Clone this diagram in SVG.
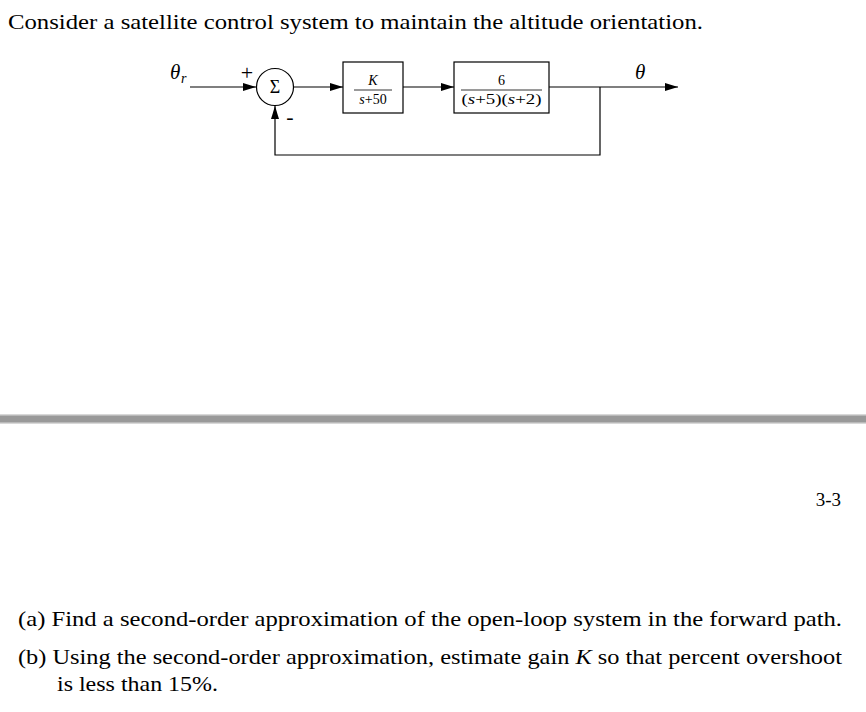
<svg xmlns="http://www.w3.org/2000/svg" width="866" height="712" viewBox="0 0 866 712">
<style>
.ln{stroke:#000;stroke-width:1.2;fill:none}
.bx{stroke:#000;stroke-width:1.2;fill:#fff}
</style>
<defs>
<marker id="ah" markerWidth="14" markerHeight="8" refX="13" refY="4" orient="auto" markerUnits="userSpaceOnUse">
<path d="M0,0 L13,4 L0,8 Z" fill="#000"/>
</marker>
</defs>
<rect width="866" height="712" fill="#fff"/>
<text font-family="Liberation Serif" font-size="22" x="8" y="29" textLength="695" lengthAdjust="spacingAndGlyphs">Consider a satellite control system to maintain the altitude orientation.</text>

<g id="connectors">
<line class="ln" x1="190" y1="87" x2="256" y2="87" marker-end="url(#ah)"/>
<line class="ln" x1="294" y1="87" x2="343" y2="87" marker-end="url(#ah)"/>
<line class="ln" x1="403" y1="87" x2="454" y2="87" marker-end="url(#ah)"/>
<line class="ln" x1="549" y1="87" x2="678" y2="87" marker-end="url(#ah)"/>
<polyline class="ln" points="600,87 600,155 275,155 275,106" marker-end="url(#ah)"/>
</g>

<g id="input-label">
<text font-family="Liberation Serif" x="170" y="79" font-size="21" font-style="italic">θ</text>
<text font-family="Liberation Serif" x="181" y="83" font-size="14" font-style="italic">r</text>
</g>

<g id="sum">
<circle cx="275" cy="87" r="18.5" class="bx"/>
<text font-family="Liberation Serif" x="275" y="93" font-size="18" text-anchor="middle">Σ</text>
<text font-family="Liberation Serif" x="247" y="80" font-size="22" text-anchor="middle">+</text>
<text font-family="Liberation Serif" x="290" y="124" font-size="22" text-anchor="middle">-</text>
</g>

<g id="controller">
<rect x="343" y="62" width="60" height="51" class="bx"/>
<text font-family="Liberation Serif" font-size="14" x="373" y="85" text-anchor="middle" font-style="italic">K</text>
<line x1="354" y1="90" x2="392" y2="90" stroke="#000" stroke-width="0.8"/>
<text font-family="Liberation Serif" font-size="14" x="373" y="104" text-anchor="middle"><tspan font-style="italic">s</tspan>+50</text>
</g>

<g id="plant">
<rect x="454" y="62" width="95" height="51" class="bx"/>
<text font-family="Liberation Serif" font-size="14" x="501.5" y="85" text-anchor="middle">6</text>
<line x1="461" y1="90" x2="542" y2="90" stroke="#000" stroke-width="0.8"/>
<text font-family="Liberation Serif" font-size="14" x="501.5" y="104" text-anchor="middle" textLength="80" lengthAdjust="spacingAndGlyphs">(<tspan font-style="italic">s</tspan>+5)(<tspan font-style="italic">s</tspan>+2)</text>
</g>

<g id="output-label">
<text font-family="Liberation Serif" x="635" y="79" font-size="21" font-style="italic">θ</text>
</g>

<rect x="0" y="414" width="866" height="10" fill="#d8d8d8"/>
<rect x="0" y="415.5" width="866" height="7" fill="#999"/>

<text font-family="Liberation Serif" font-size="19" x="841" y="506" text-anchor="end">3-3</text>
<text font-family="Liberation Serif" font-size="21" x="18" y="626" textLength="824" lengthAdjust="spacingAndGlyphs">(a) Find a second-order approximation of the open-loop system in the forward path.</text>
<text font-family="Liberation Serif" font-size="21" x="18" y="664" textLength="824" lengthAdjust="spacingAndGlyphs">(b) Using the second-order approximation, estimate gain <tspan font-style="italic">K</tspan> so that percent overshoot</text>
<text font-family="Liberation Serif" font-size="21" x="57" y="691" textLength="161" lengthAdjust="spacingAndGlyphs">is less than 15%.</text>
</svg>
